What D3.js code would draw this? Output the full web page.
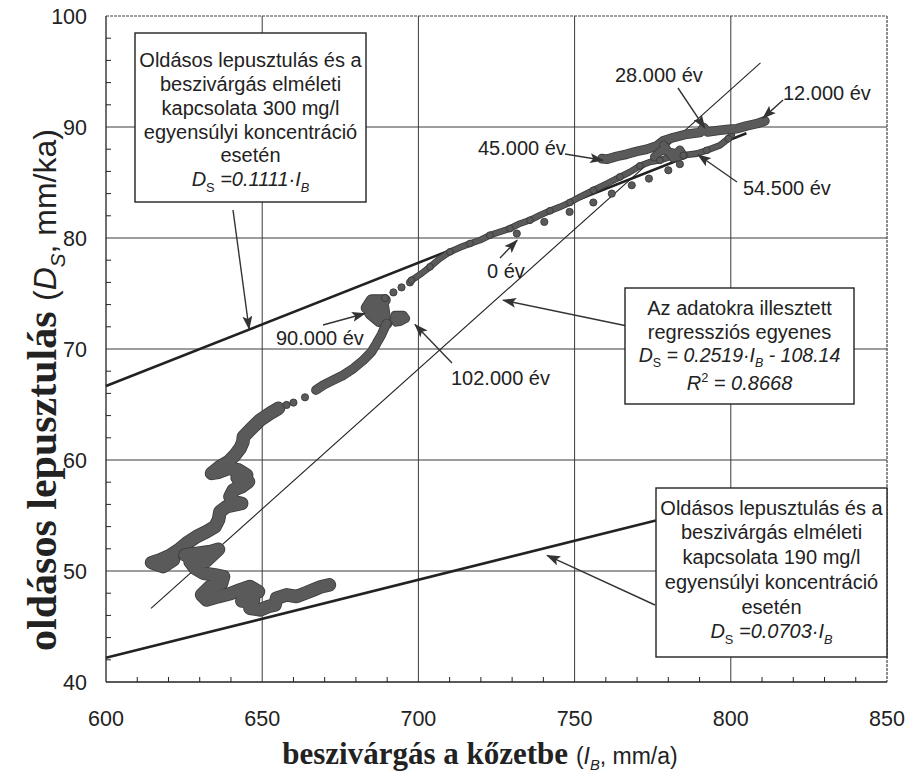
<!DOCTYPE html>
<html><head><meta charset="utf-8">
<script src="https://cdn.jsdelivr.net/npm/d3@7"></script>
<style>body{margin:0;background:#fff} svg{display:block}</style>
</head><body><svg id="c" width="908" height="775"></svg>
<script>
// ---------------- DATA ----------------
const xTicks = [600, 650, 700, 750, 800, 850];
const yTicks = [40, 50, 60, 70, 80, 90, 100];
const xMinor = [610,620,630,640,660,670,680,690,710,720,730,740,760,770,780,790,810,820,830,840];
const yMinor = [42,44,46,48,52,54,56,58,62,64,66,68,72,74,76,78,82,84,86,88,92,94,96,98];

// theoretical and fitted lines: D = slope*I + intercept over [from,to]
const theoryLines = [
  {name: "300 mg/l", slope: 0.1111, intercept: 0, from: 600, to: 805, heavy: true},
  {name: "190 mg/l", slope: 0.0703, intercept: 0, from: 600, to: 776, heavy: true},
  {name: "regresszió", slope: 0.2519, intercept: -108.14, from: 614.4, to: 809.5, heavy: false}
];

// trajectory points (I_B, D_S)
const trailUpper = [[758.7,87.15],[760.5,87.1],[763.5,87.35],[766.7,87.55],[769.9,87.8],[773.1,88.0],[776.3,88.3],[778.4,88.75],[781.6,89.05],[785.9,89.35],[790.1,89.5],[791.3,89.95],[792.5,89.55],[796.5,89.7],[799.5,89.8],[802.0,89.85],[805.1,90.1],[808.3,90.3],[810.9,90.55]];
const trailJunction = [[775.5,87.3],[777.8,87.9],[780.5,87.75],[782.7,87.6],[783.7,87.95],[784.8,87.45],[781.5,87.2],[778.5,88.4]];
const trailMain = [[697.8,76.2],[701.0,76.8],[703.7,77.4],[706.9,78.15],[710.1,78.75],[713.3,79.15],[716.5,79.5],[719.7,79.8],[722.9,80.25],[726.1,80.55],[729.3,80.85],[732.5,81.3],[735.7,81.6],[738.9,82.05],[742.1,82.45],[745.3,82.8],[748.5,83.2],[751.7,83.7],[756.0,84.3],[760.3,84.9],[764.5,85.5],[767.7,85.95],[770.9,86.5],[774.1,86.85],[777.3,87.0],[780.5,87.3],[784.8,87.45],[789.1,87.6],[792.3,87.9],[796.5,88.35],[799.2,88.95],[800.3,89.3]];
const sparseDots = [[689.3,74.6],[692.0,75.1],[694.6,75.55],[697.3,76.0],[731.5,80.4],[740.3,81.45],[748.4,82.35],[756.0,83.2],[761.9,84.0],[768.3,84.75],[773.8,85.35],[780.0,86.1],[783.7,86.65],[663.7,65.65],[660.0,65.17],[657.8,64.96]];
const cluster90 = [[689.3,74.4],[685.0,74.4],[683.4,73.7],[686.1,73.5],[688.8,73.8],[689.3,72.9],[686.6,72.8],[684.5,73.2],[687.5,72.5],[689.8,72.3]];
const cluster102 = [[692.2,72.7],[692.5,73.05],[695.2,73.05],[696.0,72.75],[694.1,72.45],[692.8,72.4]];
const trailMid = [[689.8,72.3],[688.2,71.3],[686.6,70.5],[685.0,69.75],[682.4,69.0],[679.2,68.25],[676.0,67.65],[672.8,67.2],[669.6,66.75],[667.2,66.3]];
const trailLow = [[655.2,64.65],[652.5,64.2],[649.3,63.6],[646.6,62.85],[644.0,62.1],[643.8,61.6],[642.9,61.05],[641.3,60.45],[639.2,59.85],[636.5,59.4],[633.8,58.8],[636.0,58.9],[639.2,59.25],[642.4,59.1],[645.0,58.65],[642.0,58.4],[645.6,58.05],[643.4,57.6],[640.8,57.3],[639.7,56.7],[640.8,56.25],[643.4,56.1],[638.6,55.8],[636.5,55.35],[636.0,54.6],[634.9,54.0],[632.2,53.55],[629.0,53.1],[625.8,52.5],[623.2,51.9],[620.5,51.4],[617.3,51.0],[614.6,50.75],[618.3,50.4],[621.6,51.0]];
const trailBottom = [[625.3,51.45],[629.5,51.6],[633.5,51.75],[636.0,51.95],[632.0,50.9],[626.9,50.85],[628.5,50.25],[631.2,49.8],[634.9,49.65],[637.6,49.5],[637.0,48.9],[633.3,48.6],[630.6,47.85],[632.2,47.4],[636.0,47.7],[639.7,47.95],[642.9,48.3],[646.1,48.6],[648.8,48.15],[643.5,47.3],[647.2,47.4],[646.1,46.65],[649.3,46.5],[652.0,46.8],[654.1,46.95],[654.6,47.55],[657.8,47.85],[661.0,47.7],[663.7,48.0],[666.4,48.3],[669.0,48.6],[671.5,48.75]];

// ---------------- LAYOUT ----------------
const W = 908, H = 775;
const L = 106, T = 16, R = 887, B = 682;
const SANS = "'Liberation Sans', Arial, sans-serif";
const SERIF = "'Liberation Serif', 'Times New Roman', serif";
const INK = "#222";
const DOT = "#5a5a5a", DOTEDGE = "#3a3a3a";

const svg = d3.select("#c");
const x = d3.scaleLinear().domain([600, 850]).range([L, R]);
const y = d3.scaleLinear().domain([40, 100]).range([B, T]);

svg.append("rect").attr("width", W).attr("height", H).attr("fill", "#fff");

const defs = svg.append("defs");
defs.append("marker").attr("id", "ah").attr("markerUnits", "userSpaceOnUse")
  .attr("markerWidth", 14).attr("markerHeight", 10).attr("refX", 13).attr("refY", 5)
  .attr("orient", "auto")
  .append("path").attr("d", "M0,0L14,5L0,10L3,5Z").attr("fill", "#333");

// gridlines
const g = svg.append("g");
g.selectAll(".gx").data(xTicks.slice(1, -1)).join("line")
  .attr("x1", d => x(d)).attr("x2", d => x(d)).attr("y1", T).attr("y2", B)
  .attr("stroke", "#3a3a3a").attr("stroke-width", 1);
g.selectAll(".gy").data(yTicks.slice(1, -1)).join("line")
  .attr("y1", d => y(d)).attr("y2", d => y(d)).attr("x1", L).attr("x2", R)
  .attr("stroke", "#3a3a3a").attr("stroke-width", 1);

// frame
g.append("line").attr("x1", L).attr("x2", R).attr("y1", T).attr("y2", T).attr("stroke", "#444").attr("stroke-width", 1.2).attr("stroke-dasharray", "3,1");
g.append("line").attr("x1", R).attr("x2", R).attr("y1", T).attr("y2", B).attr("stroke", "#444").attr("stroke-width", 1.2).attr("stroke-dasharray", "3,1");
g.append("line").attr("x1", L).attr("x2", L).attr("y1", T).attr("y2", B).attr("stroke", INK).attr("stroke-width", 1.3);
g.append("line").attr("x1", L).attr("x2", R).attr("y1", B).attr("y2", B).attr("stroke", INK).attr("stroke-width", 1.3);

// minor ticks
g.selectAll(".mx").data(xMinor).join("line")
  .attr("x1", d => x(d)).attr("x2", d => x(d)).attr("y1", B).attr("y2", B - 5)
  .attr("stroke", INK).attr("stroke-width", 1);
g.selectAll(".my").data(yMinor).join("line")
  .attr("y1", d => y(d)).attr("y2", d => y(d)).attr("x1", L).attr("x2", L + 5)
  .attr("stroke", INK).attr("stroke-width", 1);

// tick labels
g.selectAll(".tx").data(xTicks).join("text")
  .attr("x", d => x(d)).attr("y", 726).attr("text-anchor", "middle")
  .style("font-family", SANS).style("font-size", "21.5px").attr("fill", INK).text(d => d);
g.selectAll(".ty").data(yTicks).join("text")
  .attr("x", 87).attr("y", d => y(d) + 7.5).attr("text-anchor", "end")
  .style("font-family", SANS).style("font-size", "21.5px").attr("fill", INK).text(d => d);

// theoretical / regression lines
const lineGen = d3.line().x(d => x(d[0])).y(d => y(d[1]));
theoryLines.forEach(l => {
  const pts = [[l.from, l.slope * l.from + l.intercept], [l.to, l.slope * l.to + l.intercept]];
  svg.append("path").attr("d", lineGen(pts)).attr("fill", "none")
    .attr("stroke", INK).attr("stroke-width", l.heavy ? 2.6 : 1.1);
});

// data trails
const dataG = svg.append("g");
function trail(pts, w) {
  const ln = d3.line().x(d => x(d[0])).y(d => y(d[1])).curve(d3.curveLinear);
  dataG.append("path").attr("d", ln(pts)).attr("fill", "none").attr("stroke", DOTEDGE)
    .attr("stroke-width", w + 1.6).attr("stroke-linejoin", "round").attr("stroke-linecap", "round");
  dataG.append("path").attr("d", ln(pts)).attr("fill", "none").attr("stroke", DOT)
    .attr("stroke-width", w).attr("stroke-linejoin", "round").attr("stroke-linecap", "round");
}
function dots(pts, r) {
  dataG.selectAll(null).data(pts).join("circle")
    .attr("cx", d => x(d[0])).attr("cy", d => y(d[1])).attr("r", r)
    .attr("fill", DOT).attr("stroke", DOTEDGE).attr("stroke-width", 0.9);
}
trail(trailMain, 5);
trail(trailUpper, 8);
trail(trailJunction, 7);
trail(cluster90, 10);
trail(cluster102, 7);
trail(trailMid, 8);
trail(trailLow, 12);
trail(trailBottom, 12);
dots(sparseDots, 3.6);
dots(trailMain.filter((d, i) => i % 2 === 0), 3.4);

// ---------------- ANNOTATIONS ----------------
const ann = svg.append("g");
function arrow(x1, y1, tipX, tipY) {
  ann.append("line").attr("x1", x1).attr("y1", y1).attr("x2", tipX).attr("y2", tipY)
    .attr("stroke", "#333").attr("stroke-width", 1.4).attr("marker-end", "url(#ah)");
}
// segs: {t, i: italic, f: family, b: bold, s: size, sub, sup}
function rich(parent, px, py, segs, size, anchor) {
  const t = parent.append("text").attr("x", px).attr("y", py).attr("text-anchor", anchor || "middle")
    .style("font-family", SANS).style("font-size", size + "px").attr("fill", INK);
  let shift = 0;
  segs.forEach(s => {
    const ts = t.append("tspan").text(s.t);
    if (s.i) ts.style("font-style", "italic");
    if (s.f) ts.style("font-family", s.f);
    if (s.b) ts.style("font-weight", "bold");
    const base = s.s || size;
    let fs = base;
    let target = 0;
    if (s.sub) { fs = base * 0.64; target = base * 0.28; }
    if (s.sup) { fs = base * 0.64; target = -base * 0.4; }
    ts.style("font-size", fs + "px");
    if (target - shift !== 0) ts.attr("dy", target - shift);
    shift = target;
  });
  return t;
}
function box(x0, y0, x1, y1) {
  ann.append("rect").attr("x", x0).attr("y", y0).attr("width", x1 - x0).attr("height", y1 - y0)
    .attr("fill", "#fff").attr("stroke", INK).attr("stroke-width", 1.4);
}

// arrows from labels to the data (tips in data coords)
arrow(678, 88, x(791.7), y(89.9));     // 28.000
arrow(783, 100, x(810.3), y(90.8));    // 12.000
arrow(565, 154, x(759.1), y(87.0));    // 45.000
arrow(737, 182, x(789.5), y(87.5));    // 54.500
arrow(500, 258, x(731.6), y(79.8));    // 0
arrow(323, 325, x(682.9), y(73.2));    // 90.000
arrow(452, 363, x(698.9), y(72.2));    // 102.000
arrow(233, 210, x(645.8), y(71.8));    // box 1
arrow(632, 327, x(727.1), y(74.4));    // box 2
arrow(655, 605, x(741.2), y(51.4));    // box 3

const LS = 20;
rich(ann, 615, 82, [{t: "28.000 év"}], LS, "start");
rich(ann, 783, 100, [{t: "12.000 év"}], LS, "start");
rich(ann, 478, 155, [{t: "45.000 év"}], LS, "start");
rich(ann, 743, 195, [{t: "54.500 év"}], LS, "start");
rich(ann, 487, 278, [{t: "0 év"}], LS, "start");
rich(ann, 276, 345, [{t: "90.000 év"}], LS, "start");
rich(ann, 451, 385, [{t: "102.000 év"}], LS, "start");

// box 1
box(135, 33, 366, 202);
const b1 = [["Oldásos lepusztulás és a", 67], ["beszivárgás elméleti", 91], ["kapcsolata 300 mg/l", 115], ["egyensúlyi koncentráció", 139], ["esetén", 162]];
b1.forEach(d => rich(ann, 250.5, d[1], [{t: d[0]}], LS));
rich(ann, 250.5, 186, [{t: "D", i: 1}, {t: "S", sub: 1}, {t: " =0.1111·", i: 1}, {t: "I", i: 1}, {t: "B", sub: 1, i: 1}], LS);

// box 2
box(625, 288, 854, 404);
rich(ann, 739.5, 315, [{t: "Az adatokra illesztett"}], LS);
rich(ann, 739.5, 339, [{t: "regressziós egyenes"}], LS);
rich(ann, 739.5, 362, [{t: "D", i: 1}, {t: "S", sub: 1}, {t: " = 0.2519·", i: 1}, {t: "I", i: 1}, {t: "B", sub: 1, i: 1}, {t: " - 108.14", i: 1}], 19.5);
rich(ann, 739.5, 390, [{t: "R", i: 1}, {t: "2", sup: 1}, {t: " = 0.8668", i: 1}], LS);

// box 3
box(656, 488, 887, 657);
const b3 = [["Oldásos lepusztulás és a", 515], ["beszivárgás elméleti", 539], ["kapcsolata 190 mg/l", 564], ["egyensúlyi koncentráció", 589], ["esetén", 614]];
b3.forEach(d => rich(ann, 771.5, d[1], [{t: d[0]}], LS));
rich(ann, 771.5, 638, [{t: "D", i: 1}, {t: "S", sub: 1}, {t: " =0.0703·", i: 1}, {t: "I", i: 1}, {t: "B", sub: 1, i: 1}], LS);

// axis titles
rich(svg, 480, 764, [
  {t: "beszivárgás a kőzetbe  ", f: SERIF, b: 1, s: 31},
  {t: "(", s: 23}, {t: "I", i: 1, s: 23}, {t: "B", sub: 1, i: 1, s: 23}, {t: ", mm/a)", s: 23}
], 31, "middle");

const yl = svg.append("g").attr("transform", "translate(56,390) rotate(-90)");
rich(yl, 0, 0, [
  {t: "oldásos lepusztulás ", f: SERIF, b: 1, s: 42},
  {t: "(", s: 32}, {t: "D", i: 1, s: 32}, {t: "S", sub: 1, i: 1, s: 32}, {t: ", mm/ka)", s: 32}
], 42, "middle");
</script>
</body></html>
